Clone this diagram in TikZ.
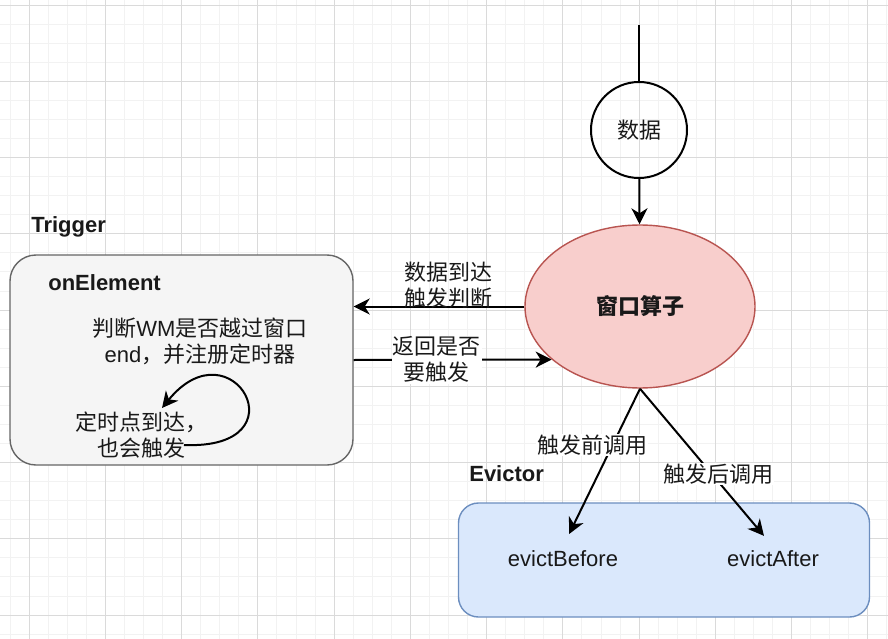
\documentclass[tikz,border=0pt]{standalone}
\usepackage{fontspec}
\setmainfont{Liberation Sans}
\newfontfamily\cjk{Noto Sans CJK SC}
\usetikzlibrary{arrows.meta,shapes.geometric}
\definecolor{rosa}{HTML}{F8CECC}
\definecolor{rosabordo}{HTML}{B85450}
\definecolor{grigio}{HTML}{F5F5F5}
\definecolor{grigiobordo}{HTML}{666666}
\definecolor{azzurro}{HTML}{DAE8FC}
\definecolor{azzurrobordo}{HTML}{6C8EBF}
\definecolor{grigliaf}{HTML}{F2F2F2}
\definecolor{griglian}{HTML}{DADADA}

\begin{document}
\begin{tikzpicture}[x=1pt, y=-1pt, line width=2pt,
    every node/.style={font=\fontsize{22}{26}\selectfont, align=center, text=black!90},
    freccia/.style={-{Stealth[length=16pt,width=16pt,inset=5pt]}},
    box/.style={draw, line width=1.4pt, rounded corners=26pt},
    titolo/.style={font=\fontsize{22}{26}\selectfont\bfseries, anchor=west},
    etichetta/.style={fill=white, inner sep=1pt}]
    \useasboundingbox (0,0) rectangle (888,639);
    % griglia di sfondo
    \foreach \i in {0,...,46} {
        \draw[grigliaf, line width=0.8pt] ({10+\i*19.0625},0) -- ({10+\i*19.0625},639);
    }
    \foreach \i in {0,...,33} {
        \draw[grigliaf, line width=0.8pt] (0,{5+\i*19.0625}) -- (888,{5+\i*19.0625});
    }
    \foreach \i in {0,...,11} {
        \draw[griglian, line width=0.8pt] ({29+\i*76.25},0) -- ({29+\i*76.25},639);
    }
    \foreach \i in {0,...,8} {
        \draw[griglian, line width=0.8pt] (0,{5+\i*76.25}) -- (888,{5+\i*76.25});
    }

    % nodi
    \node[circle, draw, minimum size=96pt, inner sep=0pt] (dati) at (639,130) {\cjk 数据};
    \coordinate (ingresso) at (639,25);
    \node[ellipse, draw=rosabordo, fill=rosa, line width=1.4pt, minimum width=230pt,
        minimum height=163pt, inner sep=0pt] (op) at (640,306.5) {\cjk\bfseries 窗口算子};

    \node[box, fill=grigio, draw=grigiobordo, minimum width=343pt, minimum height=210pt] (trig) at (181.5,360) {};
    \node[titolo] (trigtit) at (27,227) {Trigger};
    \node[titolo] (onel) at (44,283) {onElement};
    \node (giudica) at (200,341) {{\cjk 判断}WM{\cjk 是否越过窗口}\\end{\cjk ，并注册定时器}};
    \node (timer) at (141,435) {\cjk 定时点到达，\\\cjk 也会触发};
    \coordinate (c1) at (184,445);
    \coordinate (c2) at (162,408);

    \node[box, fill=azzurro, draw=azzurrobordo, rounded corners=20pt, minimum width=411pt,
        minimum height=114pt] (evict) at (664,560) {};
    \node[titolo] (evtit) at (465,474) {Evictor};
    \node (eb) at (563,559) {evictBefore};
    \node (ea) at (773,559) {evictAfter};

    % archi
    \draw (ingresso) -- (dati);
    \draw[freccia] (dati) -- (op);
    \draw[freccia] (op.west) -- (op.west -| trig.east);
    \node (lab1) at (448,285) {\cjk 数据到达\\\cjk 触发判断};
    \draw[freccia] (trig.east) -- (op.211) node[etichetta, pos=0.42] (lab2) {\cjk 返回是否\\\cjk 要触发};
    \draw[freccia] (c1) .. controls (305,450) and (232,322) .. (c2);
    \draw[freccia, shorten >=14pt] (op.south) -- (eb.north);
    \draw[freccia, shorten >=14pt] (op.south) -- (ea.north);
    \node[etichetta] (lab3) at (592,445) {\cjk 触发前调用};
    \node[etichetta] (lab4) at (718,474) {\cjk 触发后调用};
\end{tikzpicture}
\end{document}
